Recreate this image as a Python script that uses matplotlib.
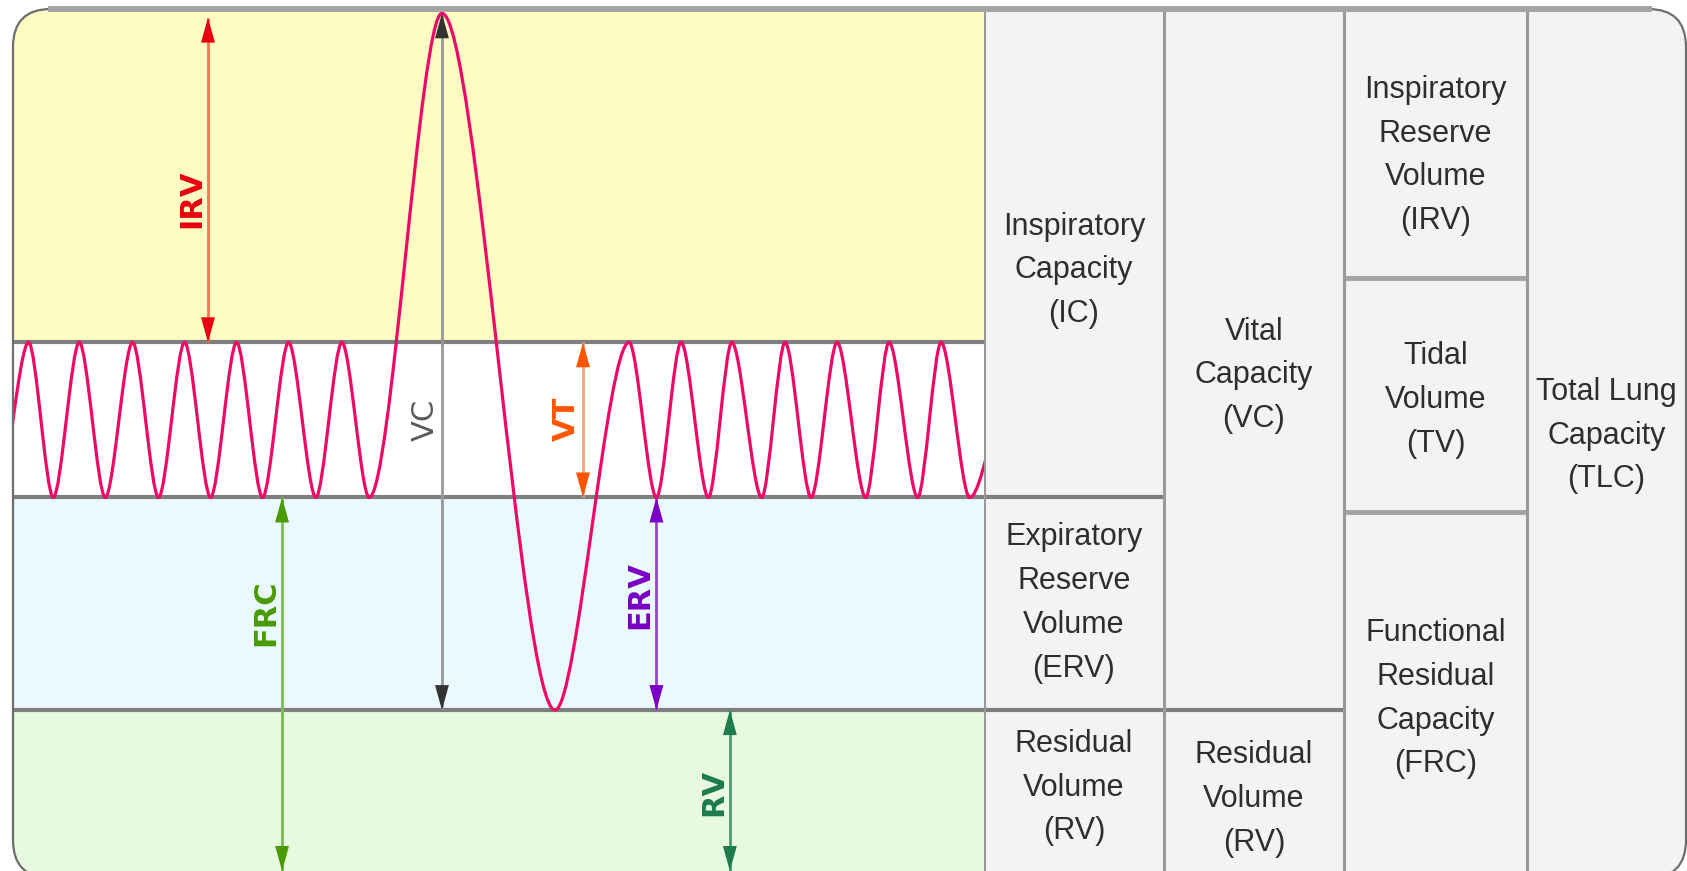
import matplotlib.pyplot as plt
from matplotlib.patches import FancyBboxPatch, PathPatch
from matplotlib.path import Path

# lung volume levels (litres)
TLC = 6.0
MAX_INSP = 5.97
END_INSP = 3.68
FRC = 2.6
RV = 1.12

# spirometer trace turning points: time (s) and volume (L)
turn_t = [-1.2, 1.2, 3.1, 5.1, 7.1, 9.2, 11.2, 13.2, 15.2, 17.2, 19.2, 21.2, 23.3, 25.3, 27.4,
          33.0, 41.7, 47.4, 49.5, 51.4, 53.5, 55.3, 57.6, 59.4, 61.4, 63.4, 65.6, 67.4,
          69.6, 71.4, 73.6, 77.5]
turn_v = [FRC, END_INSP, FRC, END_INSP, FRC, END_INSP, FRC, END_INSP, FRC, END_INSP, FRC,
          END_INSP, FRC, END_INSP, FRC,
          MAX_INSP, RV, END_INSP, FRC, END_INSP, FRC, END_INSP, FRC, END_INSP, FRC, END_INSP,
          FRC, END_INSP, FRC, END_INSP, FRC, END_INSP]
T_END = 74.7

# measurement arrows drawn on the trace
arr_label = ['IRV', 'VC', 'VT', 'FRC', 'ERV', 'RV']
arr_t = [15.0, 33.0, 43.85, 20.7, 49.5, 55.15]
arr_lo = [END_INSP, RV, FRC, 0.0, RV, 0.0]
arr_hi = [5.94, MAX_INSP, END_INSP, FRC, FRC, RV]
arr_text_v = [4.68, 3.14, 3.15, 1.80, 1.92, 0.55]
arr_head = ['#E8000E', '#333333', '#FF5500', '#4A9A00', '#7A00C4', '#1E7B4E']
arr_shaft = ['#F2755A', '#9A9A9A', '#F9A77A', '#7CBB4E', '#9A45D0', '#4D9A72']
arr_text_c = ['#E8000E', '#5A5A5A', '#FF5500', '#4A9A00', '#7A00C4', '#1E7B4E']

# table of volumes / capacities: text, column, text centre (volume)
IRV_TV_SPLIT = 4.13
TV_FRC_SPLIT = 2.50
cell_text = ['Inspiratory\nCapacity\n(IC)', 'Expiratory\nReserve\nVolume\n(ERV)',
             'Residual\nVolume\n(RV)', 'Vital\nCapacity\n(VC)', 'Residual\nVolume\n(RV)',
             'Inspiratory\nReserve\nVolume\n(IRV)', 'Tidal\nVolume\n(TV)',
             'Functional\nResidual\nCapacity\n(FRC)', 'Total Lung\nCapacity\n(TLC)']
cell_col = [0, 0, 0, 1, 1, 2, 2, 2, 3]
cell_text_v = [4.18, 1.865, 0.58, 3.45, 0.50, 4.98, 3.28, 1.20, 3.03]
col_edges = [0, 180, 360, 543, 702]

W, H = 1687, 871
fig = plt.figure(figsize=(W / 100, H / 100), dpi=100)
fig.patch.set_facecolor('white')

# overlay axis in pixel units (y up), used for the rounded frame
ax_top = fig.add_axes([0, 0, 1, 1], zorder=5)
ax_top.set_xlim(0, W)
ax_top.set_ylim(0, H)
ax_top.axis('off')
ax_top.patch.set_alpha(0)
frame = FancyBboxPatch((13, -7), 1673, 869, boxstyle='round,pad=0,rounding_size=38',
                       facecolor='none', edgecolor='#6E6E6E', lw=1.6)
ax_top.add_patch(frame)
ax_top.plot([48, 1652], [H - 9.5, H - 9.5], color='#A3A3A3', lw=4.2, solid_capstyle='butt')

# spirogram
ax = fig.add_axes([13 / W, 0, 971 / W, 862 / H], zorder=2)
ax.set_xlim(0, T_END)
ax.set_ylim(0, TLC)
ax.axis('off')
bands = [(END_INSP, TLC, '#FEFBC3'), (FRC, END_INSP, '#FFFFFF'),
         (RV, FRC, '#E9F9FE'), (0, RV, '#E7FADF')]
for lo, hi, c in bands:
    sp = ax.axhspan(lo, hi, color=c, lw=0, zorder=0)
    sp.set_clip_path(frame)

for lvl in [END_INSP, FRC, RV]:
    ax.axhline(lvl, color='#7F7F7F', lw=3.0, zorder=1)

# breathing trace as a smooth bezier path through the turning points
verts = [(turn_t[0], turn_v[0])]
codes = [Path.MOVETO]
for t0, t1, v0, v1 in zip(turn_t[:-1], turn_t[1:], turn_v[:-1], turn_v[1:]):
    d = t1 - t0
    verts += [(t0 + 0.3 * d, v0), (t1 - 0.3 * d, v1), (t1, v1)]
    codes += [Path.CURVE4] * 3
ax.add_patch(PathPatch(Path(verts, codes), facecolor='none', edgecolor='#EE0868',
                       lw=2.3, zorder=4))

for lab, t, lo, hi, hc, sc, tc, tv in zip(arr_label, arr_t, arr_lo, arr_hi, arr_head,
                                          arr_shaft, arr_text_c, arr_text_v):
    ax.plot([t, t], [lo, hi], color=sc, lw=2.0, zorder=3, solid_capstyle='butt')
    mid = (lo + hi) / 2
    for tip in (lo, hi):
        ax.annotate('', xy=(t, tip), xytext=(t, mid),
                    arrowprops=dict(arrowstyle='-|>,head_length=1.8,head_width=0.5',
                                    color=hc, lw=0, shrinkA=0, shrinkB=0), zorder=3)
    ax.text(t - 1.25, tv, lab, rotation=90, ha='center', va='center', color=tc,
            fontsize=22, fontweight='normal' if lab == 'VC' else 'bold',
            family='DejaVu Sans', zorder=5)

# table of volumes and capacities
ax_tab = fig.add_axes([984 / W, 0, 702 / W, 862 / H], zorder=1)
ax_tab.set_xlim(0, 702)
ax_tab.set_ylim(0, TLC)
ax_tab.axis('off')
bg = ax_tab.axhspan(-1, TLC + 1, color='#F3F3F3', lw=0, zorder=0)
bg.set_clip_path(frame)
for x in col_edges[:-1]:
    ax_tab.axvline(x, color='#999999', lw=2.2, zorder=2)
ax_tab.hlines(FRC, 0, col_edges[1], color='#7F7F7F', lw=3.0, zorder=1)
ax_tab.hlines(RV, 0, col_edges[2], color='#7F7F7F', lw=3.0, zorder=1)
ax_tab.hlines([IRV_TV_SPLIT, TV_FRC_SPLIT], col_edges[2], col_edges[3], color='#A3A3A3',
              lw=3.5, zorder=1)

for txt, c, tv in zip(cell_text, cell_col, cell_text_v):
    xc = (col_edges[c] + col_edges[c + 1]) / 2
    ax_tab.text(xc, tv, txt, ha='center', va='center', color='#2E2E2E',
                fontsize=22, linespacing=1.6,
                family=['Liberation Sans', 'DejaVu Sans'])

fig.savefig('out.png', dpi=100, facecolor='white')
plt.close(fig)
